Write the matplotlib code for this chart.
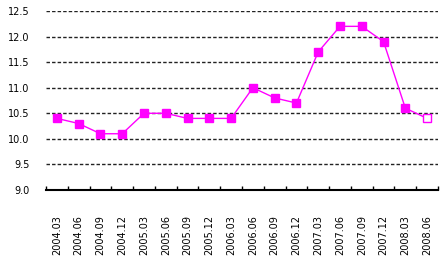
import matplotlib
matplotlib.use("Agg")
import matplotlib.pyplot as plt
import numpy as np

categories = ["2004.03", "2004.06", "2004.09", "2004.12", "2005.03", "2005.06",
              "2005.09", "2005.12", "2006.03", "2006.06", "2006.09", "2006.12",
              "2007.03", "2007.06", "2007.09", "2007.12", "2008.03", "2008.06"]
values = [10.4, 10.3, 10.1, 10.1, 10.5, 10.5, 10.4, 10.4, 10.4, 11.0, 10.8, 10.7,
          11.7, 12.2, 12.2, 11.9, 10.6, 10.4]
yticks = [9.0, 9.5, 10.0, 10.5, 11.0, 11.5, 12.0, 12.5]
ytick_labels = ["9.0", "9.5", "10.0", "10.5", "11.0", "11.5", "12.0", "12.5"]

fig = plt.figure(figsize=(4.46, 2.65), dpi=100)
ax = fig.add_axes([46/446, 1-190/265, 392/446, 179/265])

x = np.arange(len(categories))
color = "#FF00FF"
ax.plot(x, values, color=color, lw=1.0, zorder=3)
ax.plot(x[:-1], values[:-1], ls="none", marker="s", ms=5.5, mfc=color, mec=color, zorder=4)
ax.plot(x[-1:], values[-1:], ls="none", marker="s", ms=5.5, mfc="white", mec=color, mew=1.0, zorder=4)

ax.set_xlim(-0.5, len(categories) - 0.5)
ax.set_ylim(9.0, 12.5)
ax.set_yticks(yticks)
ax.set_yticklabels(ytick_labels, fontsize=7, family="DejaVu Sans")
for yv in yticks[1:]:
    ax.axhline(yv, color="#222222", lw=1.0, ls=(0, (2.5, 1.5)), zorder=1)

ax.set_xticks(np.arange(len(categories) + 1) - 0.5)
ax.set_xticklabels([])
ax.set_xticks(x, minor=True)
ax.set_xticklabels(categories, minor=True, rotation=90, fontsize=7, family="DejaVu Sans")
ax.tick_params(axis="x", which="minor", length=0, pad=18)
ax.tick_params(axis="x", which="major", direction="in", length=3, width=1)
ax.tick_params(axis="y", length=0, pad=12)

for s in ["top", "right", "left"]:
    ax.spines[s].set_visible(False)
ax.spines["bottom"].set_linewidth(1.5)

fig.savefig("out.png", dpi=100, facecolor="white")
